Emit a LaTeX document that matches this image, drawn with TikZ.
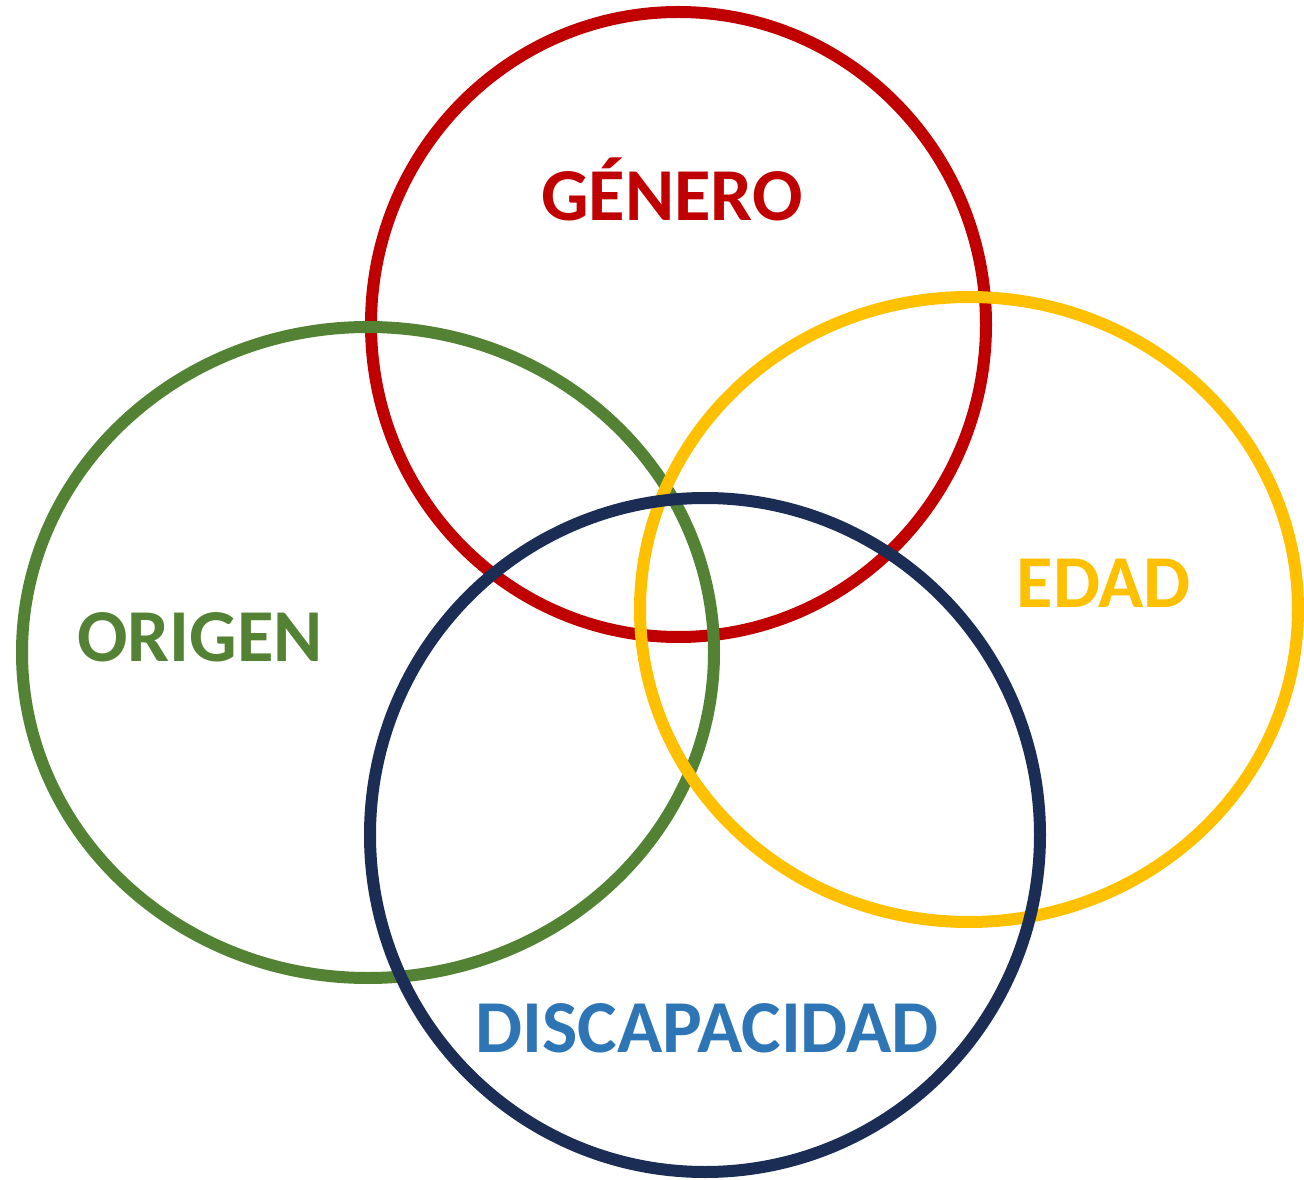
\documentclass[tikz,border=0pt]{standalone}
\usepackage{fontspec}
\usepackage{xcolor}
\usepackage{tikz}
\setmainfont{Carlito}

\definecolor{genero}{HTML}{C00000}
\definecolor{origen}{HTML}{548235}
\definecolor{edad}{HTML}{FFC000}
\definecolor{discap}{HTML}{1B2D54}
\definecolor{discaptext}{HTML}{2E75B6}

\tikzset{
	ring/.style={line width=9pt},
	label/.style={font=\fontsize{56}{60}\selectfont\bfseries, anchor=base, inner sep=0pt}
}

\begin{document}
\begin{tikzpicture}[x=0.75pt, y=-0.75pt]

\useasboundingbox (0,0) rectangle (1304,1180);

% circles, back to front
\draw[ring, draw=genero] (678.5,324.5) ellipse [x radius=307.5, y radius=312.5];
\draw[ring, draw=origen] (368,652.5) ellipse [x radius=346, y radius=325.5];
\draw[ring, draw=edad]   (969,609.5) ellipse [x radius=329, y radius=312.5];
\draw[ring, draw=discap] (705,835) ellipse [x radius=335, y radius=337];

% labels
\node[label, text=genero]     (genero) at (672,221)  {GÉNERO};
\node[label, text=origen]     (origen) at (200,662)  {ORIGEN};
\node[label, text=edad]       (edad)   at (1104,607) {EDAD};
\node[label, text=discaptext] (discap) at (707,1052) {DISCAPACIDAD};

\end{tikzpicture}
\end{document}
